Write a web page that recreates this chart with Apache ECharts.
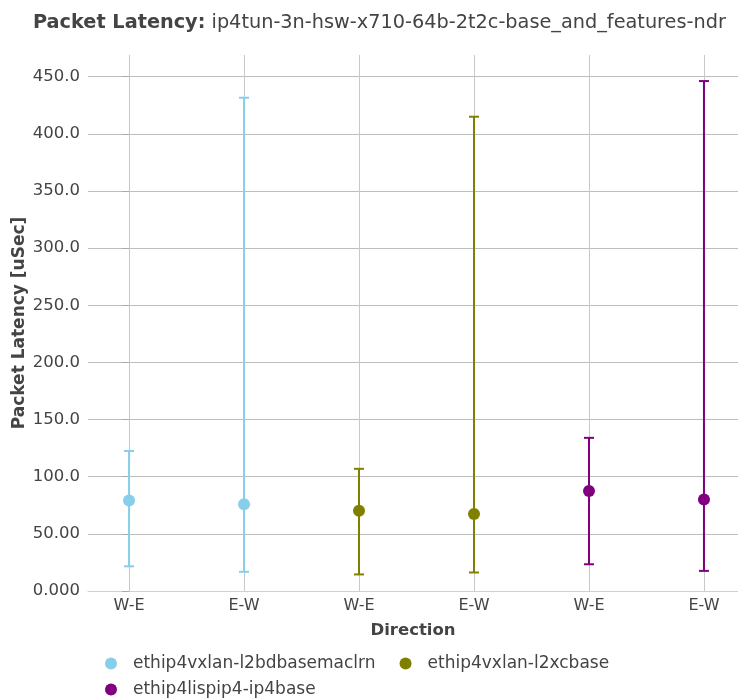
<!DOCTYPE html>
<html><head><meta charset="utf-8">
<script src="https://cdn.jsdelivr.net/npm/echarts@6/dist/echarts.min.js"></script>
<style>html,body{margin:0;padding:0;background:#fff}#c{width:738px;height:700px}</style>
</head><body><div id="c"></div>
<script>
const categories = ['W-E', 'E-W', 'W-E', 'E-W', 'W-E', 'E-W'];
const seriesNames = ['ethip4vxlan-l2bdbasemaclrn', 'ethip4vxlan-l2xcbase', 'ethip4lispip4-ip4base'];
const seriesColors = ['#87CEEB', '#808000', '#800080'];
const seriesPositions = [[0, 1], [2, 3], [4, 5]];
const avgL2bd = [79.2, 75.9];
const minL2bd = [21.6, 16.8];
const maxL2bd = [122.5, 431.6];
const avgL2xc = [70.3, 67.4];
const minL2xc = [14.5, 16.2];
const maxL2xc = [106.9, 415.0];
const avgLisp = [87.5, 80.0];
const minLisp = [23.4, 17.6];
const maxLisp = [134.0, 446.2];
const yTicks = [0, 50, 100, 150, 200, 250, 300, 350, 400, 450];
const yTickLabels = ['0.000', '50.00', '100.0', '150.0', '200.0', '250.0', '300.0', '350.0', '400.0', '450.0'];

const avgs = [avgL2bd, avgL2xc, avgLisp];
const mins = [minL2bd, minL2xc, minLisp];
const maxs = [maxL2bd, maxL2xc, maxLisp];
const FONT = 'DejaVu Sans';
const chart = echarts.init(document.getElementById('c'));
const series = [];
seriesNames.forEach((name, i) => {
  const pos = seriesPositions[i];
  series.push({
    type: 'custom', name: name, silent: true,
    data: pos.map((x, j) => [x, mins[i][j], maxs[i][j]]),
    renderItem: function (params, api) {
      const lo = api.coord([api.value(0), api.value(1)]);
      const hi = api.coord([api.value(0), api.value(2)]);
      const hw = 5;
      const st = { stroke: seriesColors[i], lineWidth: 2 };
      return { type: 'group', children: [
        { type: 'line', shape: { x1: lo[0], y1: lo[1], x2: hi[0], y2: hi[1] }, style: st },
        { type: 'line', shape: { x1: lo[0] - hw, y1: lo[1], x2: lo[0] + hw, y2: lo[1] }, style: st },
        { type: 'line', shape: { x1: hi[0] - hw, y1: hi[1], x2: hi[0] + hw, y2: hi[1] }, style: st }
      ]};
    },
    itemStyle: { color: seriesColors[i] },
    z: 2
  });
  series.push({
    type: 'scatter', name: name,
    data: pos.map((x, j) => [x, avgs[i][j]]),
    symbol: 'circle', symbolSize: 12,
    itemStyle: { color: seriesColors[i], opacity: 1 },
    z: 3
  });
});

const legendBase = {
  left: 100, orient: 'horizontal',
  icon: 'circle', itemWidth: 12, itemHeight: 12, itemGap: 24,
  textStyle: { fontFamily: FONT, fontSize: 17, color: '#444', padding: [0, 0, 0, 11] }
};
const legendItems = seriesNames.map((n, i) => ({ name: n, itemStyle: { color: seriesColors[i] } }));

chart.setOption({
  animation: false,
  backgroundColor: '#fff',
  title: {
    text: '{b|Packet Latency:} ip4tun-3n-hsw-x710-64b-2t2c-base_and_features-ndr',
    left: 28, top: 8,
    textStyle: { fontFamily: FONT, fontSize: 19.3, fontWeight: 'normal', color: '#444',
      rich: { b: { fontFamily: FONT, fontSize: 19.3, fontWeight: 'bold', color: '#444' } } }
  },
  grid: { left: 88, right: 0, top: 55, bottom: 109, outerBoundsMode: 'none', containLabel: false },
  xAxis: {
    type: 'value', min: -0.357, max: 5.296,
    name: 'Direction', nameLocation: 'middle', nameGap: 31, nameMoveOverlap: false,
    nameTextStyle: { fontFamily: FONT, fontSize: 16.5, fontWeight: 'bold', color: '#444' },
    axisLine: { show: true, lineStyle: { color: '#d0d0d0', width: 1 } },
    axisTick: { show: false, customValues: [0, 1, 2, 3, 4, 5] },
    splitLine: { show: true, lineStyle: { color: '#c8c8c8', width: 1 } },
    axisLabel: {
      customValues: [0, 1, 2, 3, 4, 5],
      formatter: v => categories[Math.round(v)],
      fontFamily: FONT, fontSize: 16, color: '#444', margin: 7
    }
  },
  yAxis: {
    type: 'value', min: 0, max: 469,
    name: 'Packet Latency [uSec]', nameLocation: 'middle', nameGap: 60, nameMoveOverlap: false,
    nameTextStyle: { fontFamily: FONT, fontSize: 17, fontWeight: 'bold', color: '#444' },
    axisLine: { show: false },
    axisTick: { show: true, length: 7, lineStyle: { color: '#aaa' }, customValues: yTicks },
    splitLine: { show: true, lineStyle: { color: '#bdbdbd', width: 1 } },
    axisLabel: {
      customValues: yTicks,
      formatter: v => yTickLabels[yTicks.indexOf(v)],
      fontFamily: FONT, fontSize: 16.5, color: '#444', margin: 8
    }
  },
  legend: [
    Object.assign({}, legendBase, { top: 650, data: legendItems.slice(0, 2) }),
    Object.assign({}, legendBase, { top: 676, data: legendItems.slice(2) })
  ],
  series: series
});
</script></body></html>
